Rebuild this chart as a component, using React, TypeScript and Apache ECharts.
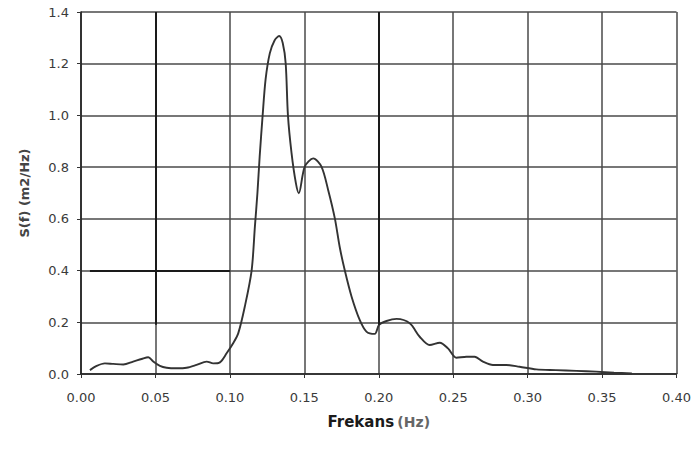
import React, { useEffect, useRef } from "react";
import * as echarts from "echarts";

const freq = [
  0.006, 0.0105, 0.016, 0.0217, 0.0284, 0.035, 0.0407, 0.0452, 0.0485, 0.053,
  0.0575, 0.0642, 0.0709, 0.0776, 0.0844, 0.0888, 0.0933, 0.0978, 0.1022, 0.1056,
  0.11, 0.1146, 0.1168, 0.1185, 0.12, 0.122, 0.124, 0.1268, 0.13, 0.1331,
  0.1355, 0.1375, 0.139, 0.1414, 0.1443, 0.1463, 0.1503, 0.156, 0.1615, 0.166,
  0.1705, 0.1738, 0.1772, 0.1817, 0.1872, 0.1917, 0.1973, 0.2002, 0.2052, 0.212,
  0.2208, 0.2275, 0.2342, 0.241, 0.2465, 0.2521, 0.2589, 0.2644, 0.27, 0.2767,
  0.2857, 0.2946, 0.3058, 0.319, 0.3327, 0.346, 0.358, 0.37,
];
const density = [
  0.015, 0.031, 0.041, 0.039, 0.037, 0.048, 0.058, 0.065, 0.048, 0.031,
  0.024, 0.022, 0.024, 0.035, 0.048, 0.041, 0.045, 0.08, 0.119, 0.157,
  0.26, 0.4, 0.57, 0.7, 0.84, 1.0, 1.14, 1.24, 1.29, 1.307,
  1.28, 1.2, 1.0, 0.855, 0.739, 0.699, 0.802, 0.834, 0.802, 0.712,
  0.602, 0.49, 0.4, 0.3, 0.209, 0.164, 0.155, 0.19, 0.205, 0.213,
  0.196, 0.144, 0.112, 0.121, 0.099, 0.063, 0.067, 0.067, 0.048, 0.035,
  0.035, 0.028, 0.018, 0.015, 0.012, 0.009, 0.005, 0.002,
];
const xMin = 0;
const xMax = 0.4;
const xStep = 0.05;
const yMin = 0;
const yMax = 1.4;
const yStep = 0.2;
const xTitle = "Frekans";
const xUnit = "(Hz)";
const yTitle = "S(f) (m2/Hz)";
const darkGridAt = [0.05, 0.2];

export default function App() {
  const ref = useRef<HTMLDivElement>(null);
  useEffect(() => {
    if (!ref.current) return;
    const chart = echarts.init(ref.current, undefined, { renderer: "svg" });
    const font = "'DejaVu Sans', Verdana, sans-serif";
    chart.setOption({
      animation: false,
      backgroundColor: "#ffffff",
      grid: { left: 81, right: 17, top: 12, bottom: 76 },
      xAxis: {
        type: "value",
        min: xMin,
        max: xMax,
        interval: xStep,
        name: `{b|${xTitle}} {u|${xUnit}}`,
        nameLocation: "middle",
        nameGap: 40,
        nameTextStyle: {
          rich: {
            b: { fontFamily: font, fontWeight: "bold", fontSize: 15, color: "#1a1a1a" },
            u: { fontFamily: font, fontWeight: "bold", fontSize: 14, color: "#666" },
          },
        },
        axisLine: { show: true, lineStyle: { color: "#222", width: 1.6 } },
        axisTick: { show: true, length: 4, lineStyle: { color: "#333" } },
        axisLabel: {
          margin: 17,
          fontFamily: font,
          fontSize: 13,
          color: "#3a3a3a",
          formatter: (v: number) => v.toFixed(2),
        },
        splitLine: { show: true, lineStyle: { color: "#4a4a4a", width: 1.5 } },
      },
      yAxis: {
        type: "value",
        min: yMin,
        max: yMax,
        interval: yStep,
        name: yTitle,
        nameLocation: "middle",
        nameGap: 50,
        nameTextStyle: { fontFamily: font, fontWeight: "bold", fontSize: 13, color: "#444" },
        axisLine: { show: true, lineStyle: { color: "#222", width: 1.6 } },
        axisTick: { show: true, length: 4, lineStyle: { color: "#333" } },
        axisLabel: {
          margin: 12,
          fontFamily: font,
          fontSize: 13,
          color: "#3a3a3a",
          formatter: (v: number) => v.toFixed(1),
        },
        splitLine: { show: true, lineStyle: { color: "#4a4a4a", width: 1.5 } },
      },
      series: [
        {
          type: "line",
          data: freq.map((f, i) => [f, density[i]]),
          smooth: 0.3,
          showSymbol: false,
          lineStyle: { color: "#333", width: 1.9 },
          markLine: {
            silent: true,
            symbol: "none",
            label: { show: false },
            lineStyle: { color: "#1a1a1a", width: 2, type: "solid" },
            data: [
              ...darkGridAt.map((x) => [
                { coord: [x, 0.19] },
                { coord: [x, yMax] },
              ]),
              [
                { coord: [0.006, 0.4] },
                { coord: [0.1, 0.4] },
              ],
            ],
          },
        },
      ],
    });
    return () => chart.dispose();
  }, []);
  return (
    <div
      ref={ref}
      style={{ position: "fixed", left: 0, top: 0, width: 694, height: 450 }}
    />
  );
}
